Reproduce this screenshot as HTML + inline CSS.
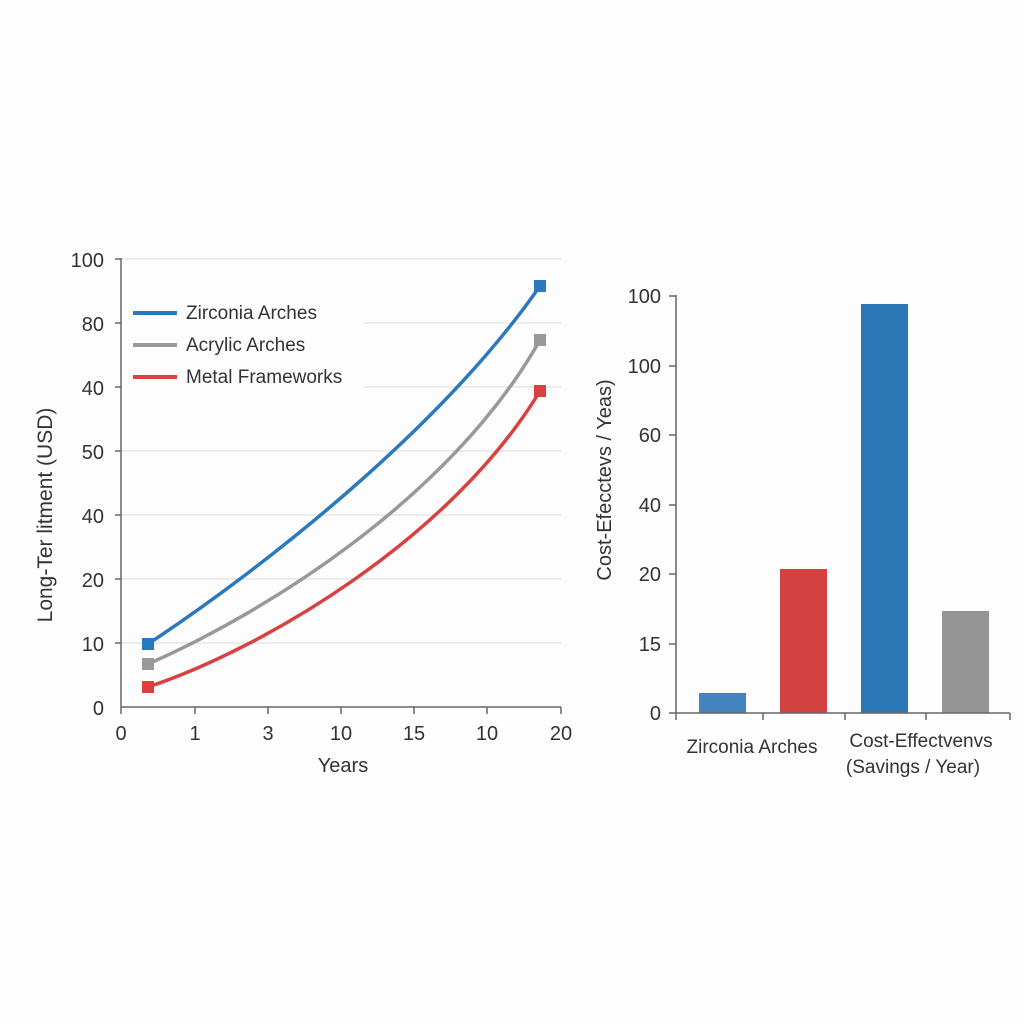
<!DOCTYPE html>
<html><head><meta charset="utf-8"><style>
html,body{margin:0;padding:0;background:#fdfdfd;}
svg{display:block;font-family:"Liberation Sans",sans-serif;}
</style></head><body>
<svg width="1024" height="1024" viewBox="0 0 1024 1024">
<rect width="1024" height="1024" fill="#fdfdfd"/>
<g stroke="#e2e2e2" stroke-width="1.3">
<line x1="121" y1="259" x2="561" y2="259"/>
<line x1="364" y1="323" x2="561" y2="323"/>
<line x1="364" y1="387" x2="561" y2="387"/>
<line x1="121" y1="451" x2="561" y2="451"/>
<line x1="121" y1="515" x2="561" y2="515"/>
<line x1="121" y1="579" x2="561" y2="579"/>
<line x1="121" y1="643" x2="561" y2="643"/>
</g>
<g stroke="#666" stroke-width="1.5">
<line x1="121" y1="258" x2="121" y2="714"/>
<line x1="121" y1="707" x2="561" y2="707"/>
<line x1="115" y1="259" x2="121" y2="259"/><line x1="115" y1="323" x2="121" y2="323"/><line x1="115" y1="387" x2="121" y2="387"/><line x1="115" y1="451" x2="121" y2="451"/><line x1="115" y1="515" x2="121" y2="515"/><line x1="115" y1="579" x2="121" y2="579"/><line x1="115" y1="643" x2="121" y2="643"/>
<line x1="195" y1="707" x2="195" y2="714"/><line x1="268" y1="707" x2="268" y2="714"/><line x1="341" y1="707" x2="341" y2="714"/><line x1="414" y1="707" x2="414" y2="714"/><line x1="487" y1="707" x2="487" y2="714"/><line x1="561" y1="707" x2="561" y2="714"/>
</g>
<g font-size="20" fill="#333" text-anchor="end">
<text x="104" y="267">100</text><text x="104" y="331">80</text><text x="104" y="395">40</text><text x="104" y="459">50</text><text x="104" y="523">40</text><text x="104" y="587">20</text><text x="104" y="651">10</text><text x="104" y="715">0</text>
</g>
<g font-size="20" fill="#333" text-anchor="middle">
<text x="121" y="740">0</text><text x="195" y="740">1</text><text x="268" y="740">3</text><text x="341" y="740">10</text><text x="414" y="740">15</text><text x="487" y="740">10</text><text x="561" y="740">20</text>
<text x="343" y="772">Years</text>
</g>
<text transform="translate(52,515) rotate(-90)" font-size="21" fill="#333" text-anchor="middle">Long-Ter  litment (USD)</text>
<g fill="none" stroke-width="3.5" stroke-linejoin="round">
<path d="M148,644 C260,570 440,430 540,286" stroke="#2a78bd"/>
<path d="M148,664 C260,615 450,500 540,340" stroke="#999"/>
<path d="M148,687 C260,650 450,540 540,391" stroke="#d94040"/>
</g>
<rect x="142" y="638" width="12" height="12" fill="#2a78bd"/>
<rect x="142" y="658" width="12" height="12" fill="#999"/>
<rect x="142" y="681" width="12" height="12" fill="#d94040"/>
<rect x="534" y="280" width="12" height="12" fill="#2a78bd"/>
<rect x="534" y="334" width="12" height="12" fill="#999"/>
<rect x="534" y="385" width="12" height="12" fill="#d94040"/>
<g stroke-width="4">
<line x1="133" y1="313" x2="177" y2="313" stroke="#2a78bd"/>
<line x1="133" y1="345" x2="177" y2="345" stroke="#999"/>
<line x1="133" y1="377" x2="177" y2="377" stroke="#d94040"/>
</g>
<g font-size="19" fill="#333">
<text x="186" y="319">Zirconia Arches</text>
<text x="186" y="351">Acrylic Arches</text>
<text x="186" y="383">Metal Frameworks</text>
</g>
<!-- right chart -->
<rect x="699" y="693" width="47" height="20" fill="#4582c0"/>
<rect x="780" y="569" width="47" height="144" fill="#d44141"/>
<rect x="861" y="304" width="47" height="409" fill="#2a78b6"/>
<rect x="942" y="611" width="47" height="102" fill="#959595"/>
<g stroke="#666" stroke-width="1.5">
<line x1="676" y1="295" x2="676" y2="720"/>
<line x1="669" y1="713" x2="1010" y2="713"/>
<line x1="669" y1="296" x2="676" y2="296"/><line x1="669" y1="366" x2="676" y2="366"/><line x1="669" y1="435" x2="676" y2="435"/><line x1="669" y1="505" x2="676" y2="505"/><line x1="669" y1="574" x2="676" y2="574"/><line x1="669" y1="644" x2="676" y2="644"/>
<line x1="763" y1="713" x2="763" y2="720"/><line x1="845" y1="713" x2="845" y2="720"/><line x1="926" y1="713" x2="926" y2="720"/><line x1="1010" y1="713" x2="1010" y2="720"/>
</g>
<g font-size="20" fill="#333" text-anchor="end">
<text x="661" y="303">100</text><text x="661" y="373">100</text><text x="661" y="442">60</text><text x="661" y="512">40</text><text x="661" y="581">20</text><text x="661" y="651">15</text><text x="661" y="720">0</text>
</g>
<text transform="translate(611,480) rotate(-90)" font-size="20" fill="#333" text-anchor="middle">Cost-Efecctevs / Yeas)</text>
<g font-size="19" fill="#333" text-anchor="middle">
<text x="752" y="753">Zirconia Arches</text>
<text x="921" y="747">Cost-Effectvenvs</text>
<text x="913" y="773">(Savings / Year)</text>
</g>
</svg>
</body></html>
